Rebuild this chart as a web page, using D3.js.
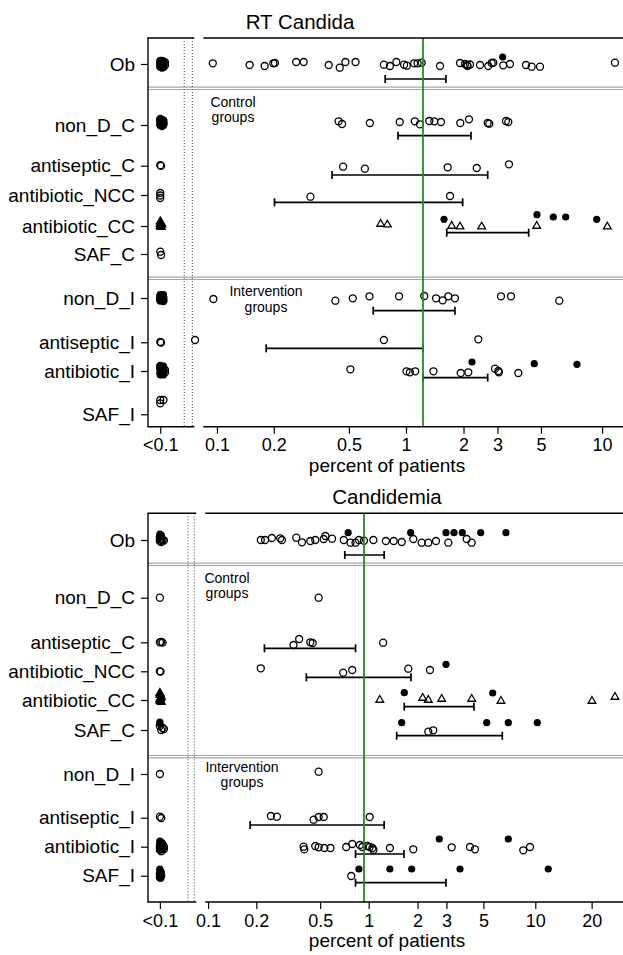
<!DOCTYPE html>
<html><head><meta charset="utf-8">
<script src="https://cdn.jsdelivr.net/npm/d3@7"></script>
<style>
body{margin:0;background:#fff}
svg{display:block}
text{font-family:"Liberation Sans",Arial,Helvetica,sans-serif;fill:#000}
</style>
</head><body>
<svg id="c" width="623" height="955"></svg>
<script>
// ---------------- DATA ----------------
const rowNames = ["Ob","non_D_C","antiseptic_C","antibiotic_NCC","antibiotic_CC","SAF_C","non_D_I","antiseptic_I","antibiotic_I","SAF_I"];
const rowPosTop = [2.6, 8.7, 12.77, 15.7, 18.8, 21.6, 26.0, 30.43, 33.3, 37.63];
const rowPosBot = [2.67, 8.44, 12.9, 15.8, 18.67, 21.67, 26.07, 30.44, 33.34, 36.24];
const sepTop = [5.03, 24.03];
const sepBot = [5.1, 24.34];

const tickValsTop = [0.05, 0.1, 0.2, 0.5, 1, 2, 3, 5, 10];
const tickLabsTop = ["<0.1","0.1","0.2","0.5","1","2","3","5","10"];
const tickValsBot = [0.05, 0.1, 0.2, 0.5, 1, 2, 3, 5, 10, 20];
const tickLabsBot = ["<0.1","0.1","0.2","0.5","1","2","3","5","10","20"];

const pooledTop = 1.228;   // green reference line
const pooledBot = 0.935;
const breakTop = [0.067, 0.074];
const breakBot = [0.075, 0.082];

// points: [percent, vertical jitter (row units), marker]
// o=open circle, f=filled circle, t=open triangle, T=filled triangle
const topPoints = [
 // Ob
 [[0.05,-0.3,"o"],[0.051,-0.32,"o"],[0.052,-0.25,"o"],[0.05,-0.1,"o"],[0.052,-0.05,"o"],[0.051,0.1,"o"],[0.053,0.12,"o"],[0.05,0.25,"o"],[0.052,0.3,"o"],[0.051,0.35,"o"],[0.05,0.05,"o"],[0.053,-0.15,"o"],
  [0.05,-0.25,"f"],[0.052,-0.25,"f"],[0.051,0.05,"f"],[0.05,0.3,"f"],[0.052,0.3,"f"],
  [0.095,-0.07,"o"],[0.149,0.1,"o"],[0.179,0.2,"o"],[0.199,-0.07,"o"],[0.203,-0.1,"o"],[0.263,-0.2,"o"],[0.288,-0.2,"o"],[0.391,0.1,"o"],[0.447,0.37,"o"],[0.479,-0.2,"o"],[0.542,-0.2,"o"],[0.765,0.07,"o"],[0.823,0.2,"o"],[0.89,-0.2,"o"],[0.977,0.07,"o"],[1.01,0.17,"o"],[1.104,-0.07,"o"],[1.151,-0.07,"o"],[1.208,-0.13,"o"],[1.508,0.2,"o"],[1.917,-0.1,"o"],[2.037,0,"o"],[2.086,0.1,"o"],[2.10,0.2,"o"],[2.162,0.05,"o"],[2.436,0.1,"o"],[2.689,0.2,"o"],[2.799,-0.1,"o"],[2.853,-0.13,"o"],[3.21,0.13,"o"],[3.478,0,"o"],[4.198,0.1,"o"],[4.487,0.27,"o"],[4.943,0.27,"o"],[11.51,-0.13,"o"],[3.19,-0.7,"f"]],
 // non_D_C
 [[0.05,-0.6,"o"],[0.051,-0.5,"o"],[0.052,-0.4,"o"],[0.05,-0.3,"o"],[0.051,-0.2,"o"],[0.052,-0.1,"o"],[0.05,0,"o"],[0.051,0.1,"o"],[0.05,-0.45,"o"],[0.052,-0.15,"o"],
  [0.05,-0.55,"f"],[0.052,-0.5,"f"],[0.051,-0.25,"f"],[0.05,0.05,"f"],[0.052,0.05,"f"],
  [0.441,-0.37,"o"],[0.46,-0.1,"o"],[0.645,-0.2,"o"],[0.927,-0.3,"o"],[1.112,-0.37,"o"],[1.183,-0.07,"o"],[1.325,-0.4,"o"],[1.408,-0.37,"o"],[1.526,-0.3,"o"],[1.924,-0.2,"o"],[2.136,-0.57,"o"],[2.67,-0.2,"o"],[2.722,-0.13,"o"],[3.317,-0.4,"o"],[3.409,-0.3,"o"]],
 // antiseptic_C
 [[0.05,-0.05,"o"],[0.0505,0.02,"o"],
  [0.466,0.1,"o"],[0.607,0.3,"o"],[1.654,0.16,"o"],[2.343,0.23,"o"],[3.437,-0.14,"o"]],
 // antibiotic_NCC
 [[0.05,-0.2,"o"],[0.05,0.05,"o"],[0.05,0.3,"o"],
  [0.313,0.17,"o"],[1.701,0.1,"o"]],
 // antibiotic_CC
 [[0.05,-0.45,"t"],[0.0505,-0.3,"t"],[0.051,-0.15,"t"],[0.05,0,"t"],[0.0505,0.1,"t"],[0.05,-0.2,"T"],[0.0505,0.05,"T"],
  [0.735,-0.2,"t"],[0.798,-0.13,"t"],[1.735,0,"t"],[1.917,0.07,"t"],[2.485,0.07,"t"],[4.757,0,"t"],[10.59,0.07,"t"],
  [1.582,-0.67,"f"],[4.773,-1.13,"f"],[5.766,-0.9,"f"],[6.647,-0.9,"f"],[9.421,-0.67,"f"]],
 // SAF_C
 [[0.05,-0.23,"o"],[0.0505,0.1,"o"]],
 // non_D_I
 [[0.05,-0.2,"o"],[0.051,-0.1,"o"],[0.052,0,"o"],[0.05,0.1,"o"],[0.051,0.2,"o"],[0.052,0.3,"o"],[0.05,0.25,"o"],[0.051,-0.15,"o"],[0.05,0,"o"],
  [0.05,-0.35,"f"],[0.052,-0.35,"f"],[0.051,-0.05,"f"],[0.05,0.25,"f"],[0.052,0.25,"f"],
  [0.0957,0.1,"o"],[0.424,0.27,"o"],[0.524,0.03,"o"],[0.642,-0.17,"o"],[0.919,-0.17,"o"],[1.247,-0.2,"o"],[1.438,0.03,"o"],[1.558,0.23,"o"],[1.665,-0.17,"o"],[1.805,0.03,"o"],[3.126,-0.17,"o"],[3.519,-0.17,"o"],[6.178,0.27,"o"]],
 // antiseptic_I
 [[0.05,-0.03,"o"],[0.0505,0.03,"o"],
  [0.0765,-0.23,"o"],[0.765,-0.23,"o"],[2.387,-0.3,"o"]],
 // antibiotic_I
 [[0.05,-0.5,"o"],[0.051,-0.4,"o"],[0.052,-0.3,"o"],[0.05,-0.2,"o"],[0.053,-0.1,"o"],[0.051,0,"o"],[0.052,0.1,"o"],[0.05,0.2,"o"],[0.051,0.3,"o"],[0.053,0.15,"o"],[0.05,-0.35,"o"],
  [0.05,-0.55,"f"],[0.052,-0.5,"f"],[0.051,-0.2,"f"],[0.052,0.1,"f"],[0.05,0.4,"f"],[0.052,0.4,"f"],
  [0.509,-0.17,"o"],[1.006,0.03,"o"],[1.048,0.13,"o"],[1.118,0.03,"o"],[1.393,0.03,"o"],[1.934,0.2,"o"],[2.118,0.13,"o"],[2.913,-0.23,"o"],[3.029,0,"o"],[3.05,0.13,"o"],[3.836,0.2,"o"],
  [2.214,-0.9,"f"],[4.625,-0.73,"f"],[7.556,-0.67,"f"]],
 // SAF_I
 [[0.05,-1.43,"o"],[0.052,-1.43,"o"],[0.05,-1.1,"o"]]
];
// CI: [low, high, offset below row]
const topCI = [[0.777,1.62,1.5],[0.908,2.187,1.07],[0.407,2.67,0.93],[0.2018,1.98,0.73],[1.635,4.332,0.67],null,[0.672,1.805,1.27],[0.1823,1.228,0.6],[1.228,2.67,0.67],null];

const botPoints = [
 // Ob
 [[0.05,-0.6,"f"],[0.051,-0.5,"f"],[0.051,-0.35,"f"],[0.05,-0.3,"o"],[0.051,-0.1,"o"],[0.052,0,"o"],[0.05,0.1,"o"],[0.051,0.2,"o"],[0.053,0.05,"o"],[0.05,-0.05,"o"],
  [0.2134,0,"o"],[0.227,0,"o"],[0.25,-0.2,"o"],[0.282,-0.17,"o"],[0.289,0,"o"],[0.355,-0.23,"o"],[0.385,0.23,"o"],[0.434,0.1,"o"],[0.466,0,"o"],[0.526,-0.1,"o"],[0.539,-0.4,"o"],[0.593,-0.13,"o"],[0.701,0,"o"],[0.772,0.27,"o"],[0.829,0.27,"o"],[0.87,0,"o"],[0.935,0.07,"o"],[1.069,0,"o"],[1.277,0.1,"o"],[1.427,0.1,"o"],[1.598,0.2,"o"],[1.883,-0.1,"o"],[2.121,0.27,"o"],[2.327,0.27,"o"],[2.592,0.1,"o"],[3.079,0.27,"o"],[3.976,-0.1,"o"],[4.259,0.27,"o"],
  [0.746,-0.73,"f"],[1.815,-0.73,"f"],[2.981,-0.73,"f"],[3.333,-0.73,"f"],[3.74,-0.73,"f"],[4.819,-0.73,"f"],[6.791,-0.73,"f"]],
 // non_D_C
 [[0.05,0,"o"],[0.489,0,"o"]],
 // antiseptic_C
 [[0.05,0,"o"],[0.051,-0.05,"o"],[0.052,0.03,"o"],
  [0.341,0.27,"o"],[0.37,-0.33,"o"],[0.434,0,"o"],[0.449,0.07,"o"],[1.228,0.04,"o"]],
 // antibiotic_NCC
 [[0.05,0,"o"],[0.0505,0.03,"o"],
  [0.2134,-0.3,"o"],[0.695,0.14,"o"],[0.791,-0.13,"o"],[1.755,-0.26,"o"],[2.382,-0.13,"o"],[2.981,-0.7,"f"]],
 // antibiotic_CC
 [[0.05,-0.7,"t"],[0.0505,-0.5,"t"],[0.051,-0.3,"t"],[0.05,-0.1,"t"],[0.0505,0.1,"t"],[0.051,0.2,"t"],
  [0.05,-0.55,"T"],[0.0505,-0.2,"T"],[0.05,0.05,"T"],
  [1.171,0,"t"],[2.15,-0.2,"t"],[2.327,0,"t"],[2.807,-0.1,"t"],[4.259,-0.1,"t"],[6.35,0.1,"t"],[20.07,0.1,"t"],[25.91,-0.3,"t"],
  [1.658,-0.73,"f"],[5.676,-0.7,"f"]],
 // SAF_C
 [[0.05,-0.8,"f"],[0.05,-0.65,"f"],[0.05,-0.4,"o"],[0.052,-0.2,"o"],[0.051,0,"o"],[0.053,-0.1,"o"],
  [1.598,-0.73,"f"],[5.231,-0.73,"f"],[7.005,-0.73,"f"],[10.26,-0.73,"f"],[2.327,0.17,"o"],[2.495,0.03,"o"]],
 // non_D_I
 [[0.05,0,"o"],[0.489,-0.23,"o"]],
 // antiseptic_I
 [[0.05,-0.1,"o"],[0.051,0.03,"o"],
  [0.2466,-0.17,"o"],[0.269,-0.1,"o"],[0.455,0.2,"o"],[0.489,-0.07,"o"],[0.526,-0.07,"o"],[1.014,-0.07,"o"]],
 // antibiotic_I
 [[0.05,-0.55,"f"],[0.051,-0.4,"o"],[0.052,-0.2,"o"],[0.05,-0.1,"o"],[0.053,0,"o"],[0.051,0.1,"o"],[0.052,0.2,"o"],[0.05,0.3,"o"],[0.051,0.45,"o"],[0.053,0.25,"o"],[0.05,0.05,"o"],
  [0.05,-0.4,"f"],[0.052,-0.3,"f"],[0.051,0,"f"],[0.05,0.3,"f"],[0.052,0.3,"f"],
  [0.394,0,"o"],[0.398,0.27,"o"],[0.466,-0.07,"o"],[0.489,0.06,"o"],[0.531,0.13,"o"],[0.579,0.13,"o"],[0.725,0.03,"o"],[0.791,-0.27,"o"],[0.882,-0.17,"o"],[0.913,0.03,"o"],[0.981,-0.07,"o"],[1.014,0.03,"o"],[1.055,0.13,"o"],[1.069,0.33,"o"],[1.352,0.13,"o"],[1.883,0.26,"o"],[3.228,0.06,"o"],[4.16,0.03,"o"],[4.456,0.26,"o"],[8.548,0.36,"o"],[9.33,0.03,"o"],
  [2.714,-0.77,"f"],[7.005,-0.77,"f"]],
 // SAF_I
 [[0.05,-0.67,"f"],[0.05,-0.5,"f"],[0.051,-0.35,"f"],[0.05,-0.2,"o"],[0.051,0,"o"],[0.05,0.15,"o"],[0.0505,0.2,"o"],
  [0.05,-0.1,"f"],[0.0505,0.15,"f"],
  [0.87,-0.67,"f"],[1.352,-0.67,"f"],[1.841,-0.67,"f"],[3.623,-0.67,"f"],[11.81,-0.67,"f"],[0.78,0.03,"o"]]
];
const botCI = [[0.711,1.246,1.5],null,[0.2248,0.829,0.6],[0.41,1.823,0.6],[1.658,4.395,0.67],[1.489,6.462,0.57],null,[0.183,1.246,0.73],[0.829,1.651,0.73],[0.829,2.981,0.7]];

// ---------------- DRAW ----------------
const svg = d3.select("#c");
const logit = p => Math.log10((p / 100) / (1 - p / 100));
const LEFT = 148, RIGHT = 623;

function drawPanel(o) {
  const g = svg.append("g");
  const xs = d3.scaleLinear().domain(o.xDom.map(logit)).range([LEFT, RIGHT]);
  const x = v => xs(logit(v));
  const y = d3.scaleLinear().domain([0, 38.87]).range([o.top, o.bottom]);

  // separators (double grey lines)
  o.seps.forEach(s => {
    [-1.2, 1.2].forEach(d => g.append("line")
      .attr("x1", LEFT).attr("x2", RIGHT).attr("y1", y(s) + d).attr("y2", y(s) + d)
      .attr("stroke", "#a6a6a6").attr("stroke-width", 1.2));
  });
  // axis-break dotted lines
  o.brk.forEach(b => g.append("line")
    .attr("x1", x(b)).attr("x2", x(b)).attr("y1", o.top).attr("y2", o.bottom)
    .attr("stroke", "#444").attr("stroke-width", 1).attr("stroke-dasharray", "1,2"));

  // CI bars
  o.ci.forEach((c, i) => {
    if (!c) return;
    const yy = y(o.rows[i] + c[2]);
    const x1 = x(c[0]), x2 = x(c[1]);
    g.append("line").attr("x1", x1).attr("x2", x2).attr("y1", yy).attr("y2", yy)
      .attr("stroke", "#000").attr("stroke-width", 1.7);
    [x1, x2].forEach(xx => g.append("line").attr("x1", xx).attr("x2", xx)
      .attr("y1", yy - 4).attr("y2", yy + 4).attr("stroke", "#000").attr("stroke-width", 1.7));
  });

  // points
  const tri = d3.symbol().type(d3.symbolTriangle).size(26);
  o.points.forEach((row, i) => {
    row.forEach(p => {
      const px = x(p[0]), py = y(o.rows[i] + p[1]);
      if (p[2] === "t" || p[2] === "T") {
        g.append("path").attr("d", tri()).attr("transform", `translate(${px},${py})`)
          .attr("fill", p[2] === "T" ? "#000" : "none").attr("stroke", "#000").attr("stroke-width", 1.3);
      } else if (p[2] === "f") {
        g.append("circle").attr("cx", px).attr("cy", py).attr("r", 3.6).attr("fill", "#000");
      } else {
        g.append("circle").attr("cx", px).attr("cy", py).attr("r", 3.5)
          .attr("fill", "none").attr("stroke", "#000").attr("stroke-width", 1.3);
      }
    });
  });

  // pooled line
  g.append("line").attr("x1", x(o.pooled)).attr("x2", x(o.pooled))
    .attr("y1", o.top).attr("y2", o.bottom).attr("stroke", "#1f8f1f").attr("stroke-width", 1.8);

  // frame (left, top, bottom) with break gap
  const gapL = x(o.brk[1]) + 2, gapR = x(o.brk[1]) + 11;
  g.append("line").attr("x1", LEFT).attr("x2", LEFT).attr("y1", o.top).attr("y2", o.bottom)
    .attr("stroke", "#000").attr("stroke-width", 1.4);
  [o.top, o.bottom].forEach(yy => {
    g.append("line").attr("x1", LEFT - 0.7).attr("x2", gapL).attr("y1", yy).attr("y2", yy)
      .attr("stroke", "#000").attr("stroke-width", 1.4);
    g.append("line").attr("x1", gapR).attr("x2", RIGHT).attr("y1", yy).attr("y2", yy)
      .attr("stroke", "#000").attr("stroke-width", 1.4);
  });

  // x axis
  const xAxis = d3.axisBottom(xs).tickValues(o.ticks.map(logit))
    .tickFormat((d, i) => o.tickLabs[i]).tickSize(7).tickPadding(5);
  const ax = g.append("g").attr("transform", `translate(0,${o.bottom})`).call(xAxis);
  ax.attr("font-size", null).attr("font-family", null);
  ax.select(".domain").remove();
  ax.selectAll(".tick line").attr("stroke", "#000").attr("stroke-width", 1.2);
  ax.selectAll(".tick text").style("font-size", "18px");

  // y axis
  const yAxis = d3.axisLeft(y).tickValues(o.rows)
    .tickFormat((d, i) => rowNames[i]).tickSize(7).tickPadding(6);
  const ay = g.append("g").attr("transform", `translate(${LEFT},0)`).call(yAxis);
  ay.attr("font-size", null).attr("font-family", null);
  ay.select(".domain").remove();
  ay.selectAll(".tick line").attr("stroke", "#000").attr("stroke-width", 1.2);
  ay.selectAll(".tick text").style("font-size", "19px");

  // title, x label
  g.append("text").attr("x", o.titleX).attr("y", o.top - 9.5).attr("text-anchor", "middle")
    .style("font-size", "20.5px").text(o.title);
  g.append("text").attr("x", 387).attr("y", o.bottom + 45).attr("text-anchor", "middle")
    .style("font-size", "19px").text("percent of patients");

  // group notes (two lines)
  o.notes.forEach(n => {
    g.append("text").attr("x", n.x).attr("y", n.y).attr("text-anchor", "middle")
      .style("font-size", "14px").text(n.l1);
    g.append("text").attr("x", n.x).attr("y", n.y + 15.8).attr("text-anchor", "middle")
      .style("font-size", "14px").text("groups");
  });
}

drawPanel({
  top: 38, bottom: 426.7, xDom: [0.04304, 12.55], rows: rowPosTop, seps: sepTop, brk: breakTop,
  points: topPoints, ci: topCI, pooled: pooledTop, ticks: tickValsTop, tickLabs: tickLabsTop,
  title: "RT Candida", titleX: 300,
  notes: [{x: 233, y: 106.6, l1: "Control"}, {x: 266, y: 295.9, l1: "Intervention"}]
});
drawPanel({
  top: 513.3, bottom: 902, xDom: [0.04215, 28.19], rows: rowPosBot, seps: sepBot, brk: breakBot,
  points: botPoints, ci: botCI, pooled: pooledBot, ticks: tickValsBot, tickLabs: tickLabsBot,
  title: "Candidemia", titleX: 387,
  notes: [{x: 227, y: 582.6, l1: "Control"}, {x: 242, y: 771.6, l1: "Intervention"}]
});
</script>
</body></html>
